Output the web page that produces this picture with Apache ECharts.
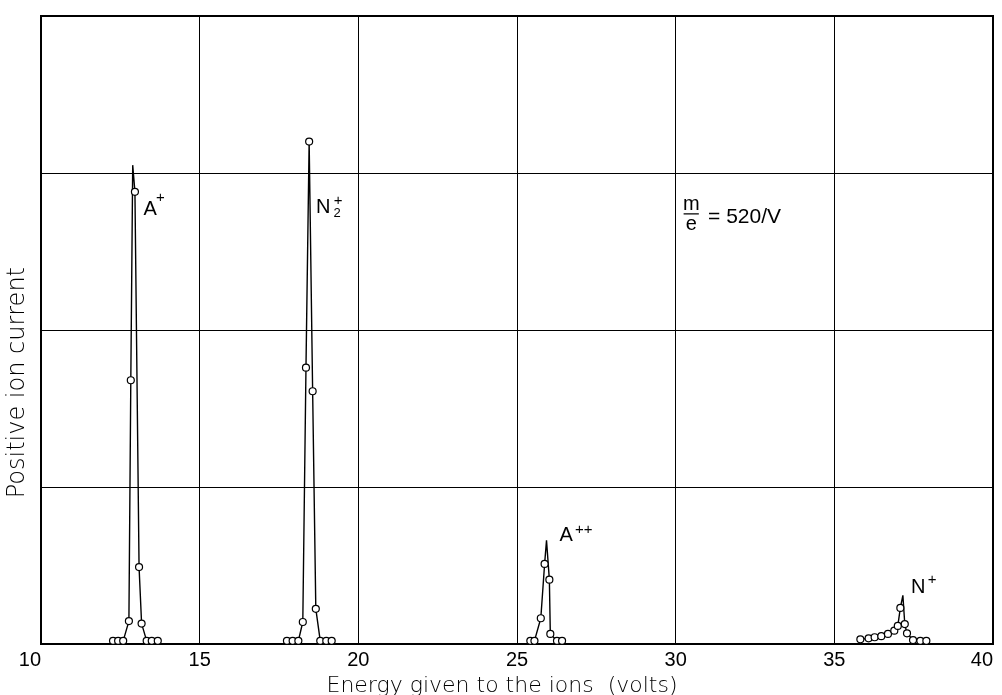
<!DOCTYPE html>
<html>
<head>
<meta charset="utf-8">
<script src="https://cdn.jsdelivr.net/npm/echarts@6/dist/echarts.min.js"></script>
<style>html,body{margin:0;padding:0;background:#fff}#c{width:1002px;height:695px}</style>
</head>
<body>
<div id="c"></div>
<script>
// ---- data (energy in volts, ion current in grid units) ----
const xTicks = [10, 15, 20, 25, 30, 35, 40];
const aPlusX = [12.27, 12.43, 12.59, 12.77, 12.83, 12.89, 12.96, 13.09, 13.17, 13.33, 13.49, 13.68];
const aPlusY = [0.02, 0.02, 0.02, 0.146, 1.68, 3.05, 2.88, 0.49, 0.13, 0.02, 0.02, 0.02];
const aPlusTip = [5];
const n2PlusX = [17.75, 17.93, 18.11, 18.25, 18.35, 18.45, 18.56, 18.66, 18.80, 18.99, 19.16];
const n2PlusY = [0.02, 0.02, 0.02, 0.14, 1.76, 3.20, 1.61, 0.224, 0.02, 0.02, 0.02];
const n2PlusTip = [];
const aPlusPlusX = [25.42, 25.55, 25.75, 25.87, 25.93, 26.02, 26.05, 26.26, 26.42];
const aPlusPlusY = [0.02, 0.02, 0.164, 0.51, 0.66, 0.41, 0.064, 0.02, 0.02];
const aPlusPlusTip = [4];
const nPlusX = [35.82, 36.08, 36.27, 36.48, 36.69, 36.89, 37.0, 37.08, 37.16, 37.22, 37.29, 37.48, 37.71, 37.9];
const nPlusY = [0.03, 0.036, 0.043, 0.05, 0.064, 0.085, 0.115, 0.23, 0.31, 0.127, 0.068, 0.025, 0.02, 0.02];
const nPlusTip = [8];

// annotation texts anchored at data coordinates
const labelTexts = ['A', '+', 'N', '2', '+', 'A', '++', 'N', '+', 'm', 'e', '= 520/V'];
const labelX = [13.44, 13.76, 18.89, 19.33, 19.36, 26.55, 27.1, 37.64, 38.08, 30.49, 30.49, 31.02];
const labelY = [2.77, 2.84, 2.78, 2.74, 2.82, 0.69, 0.73, 0.363, 0.41, 2.80, 2.675, 2.72];
const labelSize = [20, 15, 20, 13, 15, 20, 15, 20, 15, 20, 20, 21];
const labelAlign = ['center','center','center','center','center','center','center','center','center','center','center','left'];
const fracLineX = [30.25, 30.73];
const fracLineY = [2.74, 2.74];

const FONT = "'Liberation Sans', 'DejaVu Sans', sans-serif";
const WIDEFONT = "'DejaVu Sans', 'Liberation Sans', sans-serif";

function build(xs, ys, tips) {
  return xs.map((x, i) => tips.indexOf(i) >= 0
    ? { value: [x, ys[i]], symbol: 'none' }
    : { value: [x, ys[i]] });
}
function peakSeries(name, xs, ys, tips) {
  return {
    name, type: 'line', data: build(xs, ys, tips),
    symbol: 'circle', symbolSize: 7, showAllSymbol: true,
    itemStyle: { color: '#fff', borderColor: '#000', borderWidth: 1.2 },
    lineStyle: { color: '#000', width: 1.4 },
    animation: false, z: 3
  };
}

const chart = echarts.init(document.getElementById('c'), null, { renderer: 'canvas' });
chart.setOption({
  backgroundColor: '#fff',
  animation: false,
  grid: { left: 41, right: 9, top: 16, bottom: 51, show: true, borderColor: '#000', borderWidth: 2,
          backgroundColor: 'transparent', containLabel: false, outerBoundsMode: 'none' },
  xAxis: {
    type: 'value', min: 10, max: 40, interval: 5,
    axisLine: { show: true, lineStyle: { color: '#000', width: 2 } },
    axisTick: { show: false },
    axisLabel: { color: '#000', fontSize: 20, fontFamily: FONT, margin: 6,
      alignMinLabel: 'right', alignMaxLabel: 'right',
      formatter: v => xTicks.indexOf(v) >= 0 ? String(v) : '' },
    splitLine: { show: true, lineStyle: { color: '#000', width: 1 } },
    name: 'Energy given to the ions  (volts)', nameLocation: 'middle', nameGap: 29,
    nameTextStyle: { color: '#000', fontSize: 22, fontFamily: WIDEFONT, fontWeight: 200, padding: [0, 30, 0, 0] }
  },
  yAxis: {
    type: 'value', min: 0, max: 4, interval: 1,
    axisLine: { show: true, lineStyle: { color: '#000', width: 2 } },
    axisTick: { show: false }, axisLabel: { show: false },
    splitLine: { show: true, lineStyle: { color: '#000', width: 1 } }
  },
  graphic: [{
    type: 'text', left: 6, top: 267, rotation: Math.PI / 2,
    style: { text: 'Positive ion current', fill: '#000', fontSize: 24, fontFamily: WIDEFONT, fontWeight: 200 }
  }],
  series: [
    peakSeries('A+', aPlusX, aPlusY, aPlusTip),
    peakSeries('N2+', n2PlusX, n2PlusY, n2PlusTip),
    peakSeries('A++', aPlusPlusX, aPlusPlusY, aPlusPlusTip),
    peakSeries('N+', nPlusX, nPlusY, nPlusTip),
    {
      type: 'scatter', symbolSize: 0, animation: false, silent: true, z: 5,
      itemStyle: { opacity: 1 },
      data: labelTexts.map((t, i) => ({
        value: [labelX[i], labelY[i]],
        label: { show: true, formatter: t, position: 'inside', align: labelAlign[i], verticalAlign: 'middle',
          color: '#000', fontSize: labelSize[i], fontFamily: FONT, opacity: 1 }
      }))
    },
    {
      type: 'line', silent: true, animation: false, symbol: 'none', z: 5,
      data: fracLineX.map((x, i) => [x, fracLineY[i]]),
      lineStyle: { color: '#000', width: 1.3 }
    }
  ]
});
</script>
</body>
</html>
